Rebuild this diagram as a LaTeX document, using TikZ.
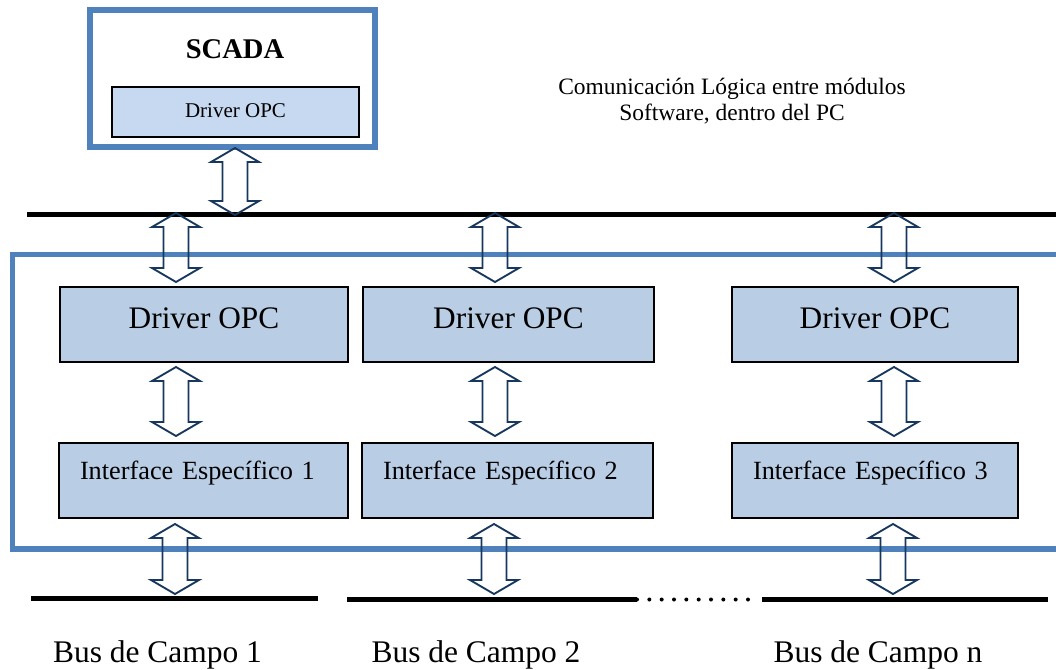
\documentclass[tikz,border=0pt]{standalone}
\usepackage{fontspec}
\setmainfont{Liberation Serif}
\usetikzlibrary{calc}

\definecolor{frameblue}{RGB}{79,129,189}
\definecolor{boxfill}{RGB}{185,205,229}
\definecolor{boxfilllight}{RGB}{198,217,241}
\definecolor{arrowedge}{RGB}{23,55,94}

% hollow double-headed block arrow between two points (top, bottom)
\newcommand\busarrow[2]{%
  \draw[blockarrow] let \p1=#1, \p2=#2 in
    (\x1,\y1) -- (\x1+18pt,\y1-10.5pt) -- (\x1+9.4pt,\y1-10.5pt)
    -- (\x1+9.4pt,\y2+10.5pt) -- (\x1+18pt,\y2+10.5pt) -- (\x1,\y2)
    -- (\x1-18pt,\y2+10.5pt) -- (\x1-9.4pt,\y2+10.5pt)
    -- (\x1-9.4pt,\y1-10.5pt) -- (\x1-18pt,\y1-10.5pt) -- cycle;}

\tikzset{
  blockarrow/.style={draw=arrowedge, line width=1.4pt, line join=miter},
  scadabox/.style={draw=frameblue, line width=4.5pt, fill=white, outer sep=0pt,
    minimum width=213.75pt, minimum height=102.75pt, inner sep=0pt},
  scadatitle/.style={font=\fontsize{21.4}{25}\selectfont\bfseries, anchor=base, inner sep=0pt},
  smallbox/.style={draw=black, line width=1.1pt, fill=boxfilllight, outer sep=0pt,
    minimum width=185.25pt, minimum height=37.5pt, inner sep=0pt,
    font=\fontsize{15.75}{18}\selectfont, text height=10.75pt, text depth=3.25pt},
  drvbox/.style={draw=black, line width=1.1pt, fill=boxfill, outer sep=0pt,
    minimum width=#1, minimum height=56.25pt, inner sep=0pt,
    font=\fontsize{23.5}{28}\selectfont, text height=16pt, text depth=10.75pt},
  ifbox/.style={draw=black, line width=1.1pt, fill=boxfill, outer sep=0pt,
    text width=#1, align=left, inner xsep=15.75pt, inner ysep=0pt,
    minimum height=56.25pt,
    font=\fontsize{19.7}{23}\selectfont, text height=13.5pt, text depth=15.75pt},
  busline/.style={line width=3.75pt, black},
  buslabel/.style={font=\fontsize{23.6}{28}\selectfont, anchor=base, inner sep=0pt},
  note/.style={font=\fontsize{17.6}{19.5}\selectfont, align=center, anchor=north, inner sep=0pt},
  frame/.style={draw=frameblue, line width=4.1pt}
}

\begin{document}
\begin{tikzpicture}[x=0.75pt, y=-0.75pt]
\useasboundingbox (0,0) rectangle (1056,669);

% bus line end points
\coordinate (topL) at (27,214.5);
\coordinate (topR) at (1060,214.5);
\coordinate (b1L) at (31,598.5);
\coordinate (b1R) at (318,598.5);
\coordinate (b2L) at (347,599.5);
\coordinate (b2R) at (637,599.5);
\coordinate (dotsEnd) at (749,599.5);
\coordinate (bnL) at (762,599.5);
\coordinate (bnR) at (1048,599.5);

% PC frame (open to the right)
\draw[frame] (1062,254.5) -- (12.5,254.5) -- (12.5,549) -- (1062,549);

% SCADA application
\node[scadabox] (scada) at (232.5,78.5) {};
\node[scadatitle] (title) at (235,58) {SCADA};
\node[smallbox] (drv0) at (235.5,112) {Driver OPC};

\node[note] (comm) at (732,78) {Comunicación Lógica entre módulos\\Software, dentro del PC};

% software bus
\draw[busline] (topL) -- (topR);

% OPC drivers
\node[drvbox=216pt] (d1) at (204,324.5) {Driver OPC};
\node[drvbox=218.25pt] (d2) at (508.5,324.5) {Driver OPC};
\node[drvbox=214.5pt] (d3) at (875,324.5) {Driver OPC};

% specific interfaces
\node[ifbox=185.25pt] (i1) at (203.5,480.5) {Interface Específico 1};
\node[ifbox=186.75pt] (i2) at (507.5,480.5) {Interface Específico 2};
\node[ifbox=183pt] (i3) at (875,480.5) {Interface Específico 3};

% field buses
\draw[busline] (b1L) -- (b1R);
\draw[busline] (b2L) -- (b2R);
\draw[line width=3pt, line cap=round, dash pattern=on 0pt off 9.25pt] (b2R) -- (dotsEnd);
\draw[busline] (bnL) -- (bnR);

\node[buslabel] (l1) at (157.5,662) {Bus de Campo 1};
\node[buslabel] (l2) at (476,662) {Bus de Campo 2};
\node[buslabel] (ln) at (878,662) {Bus de Campo n};

% SCADA <-> software bus
\busarrow{($(scada.south)+(2.5,1)$)}{($(scada.south |- topL)+(2.5,0.5)$)}

% software bus <-> drivers
\busarrow{($(d1.north |- topL)+(-28,-1.5)$)}{($(d1.north)+(-28,-5)$)}
\busarrow{($(d2.north |- topL)+(-13.5,-1.5)$)}{($(d2.north)+(-13.5,-5)$)}
\busarrow{($(d3.north |- topL)+(19,-1.5)$)}{($(d3.north)+(19,-5)$)}

% drivers <-> interfaces
\busarrow{($(d1.south)+(-28,5)$)}{($(i1.north)+(-27.5,-7)$)}
\busarrow{($(d2.south)+(-13.5,5)$)}{($(i2.north)+(-12.5,-7)$)}
\busarrow{($(d3.south)+(19,5)$)}{($(i3.north)+(19,-7)$)}

% interfaces <-> field buses
\busarrow{($(i1.south)+(-28.5,6)$)}{($(i1.south |- b1L)+(-28.5,-4.5)$)}
\busarrow{($(i2.south)+(-13.5,6)$)}{($(i2.south |- b2L)+(-13.5,-5.5)$)}
\busarrow{($(i3.south)+(18,6)$)}{($(i3.south |- bnL)+(18,-5.5)$)}
\end{tikzpicture}
\end{document}
